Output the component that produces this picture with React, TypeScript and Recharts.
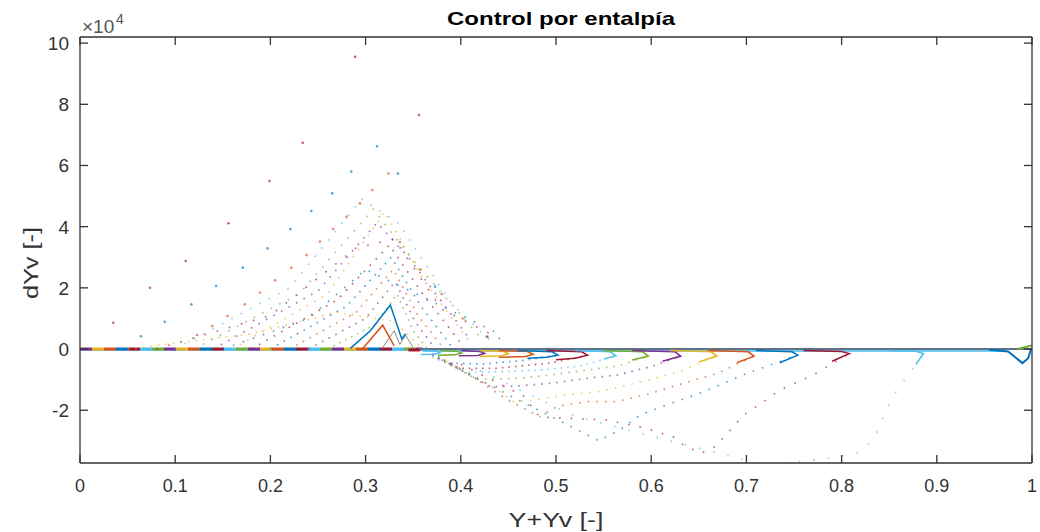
import React from 'react';
import { LineChart, Line, XAxis, YAxis } from 'recharts';

type Pt = [number, number];

// axes (y values in units of 1e4)
const xTicks = [0, 0.1, 0.2, 0.3, 0.4, 0.5, 0.6, 0.7, 0.8, 0.9, 1];
const yTicks = [-2, 0, 2, 4, 6, 8, 10];
const xDomain: [number, number] = [0, 1];
const yDomain: [number, number] = [-3.725, 10.2];

const BLUE = '#0072BD';
const ORANGE = '#D95319';
const YELLOW = '#EDB120';
const PURPLE = '#7E2F8E';
const GREEN = '#77AC30';
const CYAN = '#4DBEEE';
const RED = '#A2142F';
const AXIS = '#333333';
const FONT = '"Liberation Sans", Arial, Helvetica, sans-serif';

// sparse sample points of the outer trajectories (above zero)
const fanRedDots: Pt[] = [[0.035, 0.86], [0.0735, 2.0], [0.111, 2.88], [0.156, 4.11], [0.199, 5.49], [0.234, 6.74], [0.289, 9.55], [0.356, 7.65]];
const fanBlueDots: Pt[] = [[0.064, 0.42], [0.089, 0.89], [0.117, 1.46], [0.143, 2.06], [0.171, 2.66], [0.197, 3.29], [0.221, 3.92], [0.243, 4.51], [0.265, 5.09], [0.285, 5.8], [0.312, 6.63], [0.334, 5.74], [0.373, 2.04], [0.428, 0.4]];
const fanOrangeDots: Pt[] = [[0.123, 0.46], [0.139, 0.75], [0.155, 1.08], [0.173, 1.46], [0.189, 1.84], [0.205, 2.25], [0.222, 2.66], [0.238, 3.07], [0.252, 3.51], [0.266, 3.92], [0.28, 4.32], [0.294, 4.76], [0.307, 5.2], [0.324, 5.74], [0.336, 3.5], [0.357, 2.6], [0.38, 1.8], [0.402, 1.0], [0.427, 0.4]];

// denser trajectories inside the fan
const inner1: Pt[] = [[0.14, 0], [0.25, 1.9], [0.312, 4.13], [0.345, 3.0], [0.41, 0.3]];
const inner2: Pt[] = [[0.10, 0], [0.22, 2.0], [0.296, 4.9], [0.335, 4.1], [0.39, 1.5], [0.43, 0.3]];
const inner3: Pt[] = [[0.12, 0], [0.23, 1.8], [0.308, 4.57], [0.35, 2.9], [0.42, 0.4]];
const inner4: Pt[] = [[0.16, 0], [0.26, 1.8], [0.32, 4.49], [0.36, 2.3], [0.41, 0.2]];
const inner5: Pt[] = [[0.18, 0], [0.27, 1.6], [0.325, 3.4], [0.36, 1.8], [0.40, 0.2]];
const inner6: Pt[] = [[0.20, 0], [0.28, 1.4], [0.327, 3.0], [0.358, 1.4], [0.39, 0.1]];
const inner7: Pt[] = [[0.22, 0], [0.29, 1.2], [0.329, 2.6], [0.355, 1.1], [0.38, 0.1]];
const inner8: Pt[] = [[0.24, 0], [0.30, 1.0], [0.331, 2.2], [0.352, 0.9], [0.372, 0.05]];
const inner9: Pt[] = [[0.26, 0], [0.31, 0.8], [0.333, 1.8], [0.35, 0.6], [0.365, 0]];
const inner10: Pt[] = [[0.05, 0], [0.18, 0.5], [0.27, 1.2], [0.33, 0.9], [0.36, 0]];
const inner11: Pt[] = [[0.15, 0], [0.24, 1.0], [0.30, 2.6], [0.34, 2.0], [0.44, 0.5]];
const inner12: Pt[] = [[0.08, 0], [0.20, 1.1], [0.29, 3.3], [0.33, 3.6], [0.38, 1.3], [0.45, 0.2]];

// solid bumps near x=0.33
const upBlue: Pt[] = [[0.284, 0.02], [0.305, 0.6], [0.326, 1.44], [0.338, 0.33], [0.342, 0.5]];
const upOrange: Pt[] = [[0.297, 0.02], [0.318, 0.78], [0.33, 0.1]];
const upGray: Pt[] = [[0.318, 0.05], [0.33, 0.6], [0.336, 0.15], [0.342, 0.45], [0.35, 0.05]];

// zero line
const zeroLeft: Pt[] = [[0, 0], [0.36, 0]];
const zeroLeftBase: Pt[] = [[0, -0.03], [0.36, -0.03]];
const zeroRight: Pt[] = [[0.355, 0], [1, 0]];
const zeroRightLow: Pt[] = [[0.36, -0.06], [0.97, -0.06]];
const endDip: Pt[] = [[0.955, -0.02], [0.975, -0.08], [0.99, -0.46], [0.996, -0.3], [0.999, 0]];
const endGreen: Pt[] = [[0.985, 0], [1, 0.12]];

// hooks (solid) at the tip of each negative loop
const hookRed1: Pt[] = [[0.345, -0.03], [0.357, -0.03]];
const hookCyan1: Pt[] = [[0.36, -0.04], [0.374, -0.06], [0.378, -0.12], [0.372, -0.17], [0.358, -0.18]];
const hookGreen1: Pt[] = [[0.378, -0.05], [0.396, -0.07], [0.401, -0.13], [0.394, -0.19], [0.376, -0.2]];
const hookPurple1: Pt[] = [[0.40, -0.05], [0.42, -0.08], [0.425, -0.14], [0.418, -0.21], [0.398, -0.22]];
const hookYellow1: Pt[] = [[0.42, -0.05], [0.445, -0.08], [0.45, -0.15], [0.443, -0.22], [0.42, -0.24]];
const hookOrange1: Pt[] = [[0.44, -0.05], [0.47, -0.08], [0.476, -0.17], [0.468, -0.24], [0.44, -0.27]];
const hookBlue1: Pt[] = [[0.46, -0.05], [0.496, -0.09], [0.502, -0.2], [0.49, -0.27], [0.47, -0.3]];
const hookRed2: Pt[] = [[0.49, -0.05], [0.527, -0.09], [0.533, -0.2], [0.52, -0.3], [0.50, -0.35]];
const hookCyan2: Pt[] = [[0.52, -0.05], [0.557, -0.09], [0.563, -0.22], [0.55, -0.33]];
const hookGreen2: Pt[] = [[0.55, -0.05], [0.591, -0.09], [0.597, -0.23], [0.58, -0.36]];
const hookPurple2: Pt[] = [[0.58, -0.05], [0.625, -0.09], [0.631, -0.23], [0.612, -0.4]];
const hookYellow2: Pt[] = [[0.62, -0.05], [0.663, -0.09], [0.669, -0.23], [0.65, -0.42]];
const hookOrange2: Pt[] = [[0.66, -0.05], [0.702, -0.09], [0.708, -0.23], [0.69, -0.45]];
const hookBlue2: Pt[] = [[0.71, -0.05], [0.748, -0.09], [0.754, -0.2], [0.735, -0.45]];
const hookRed3: Pt[] = [[0.76, -0.05], [0.80, -0.08], [0.808, -0.15], [0.79, -0.4]];
const hookCyan3: Pt[] = [[0.85, -0.05], [0.878, -0.07], [0.886, -0.15], [0.878, -0.5]];

// dotted dips below zero
const dipBlue1: Pt[] = [[0.37, -0.15], [0.389, -0.46], [0.423, -0.49], [0.469, -0.36], [0.502, -0.2]];
const dipRed2: Pt[] = [[0.37, -0.2], [0.399, -0.63], [0.437, -0.63], [0.494, -0.46], [0.533, -0.2]];
const dipCyan2: Pt[] = [[0.37, -0.25], [0.406, -0.77], [0.441, -0.74], [0.483, -0.69], [0.525, -0.56], [0.563, -0.22]];
const dipGreen2: Pt[] = [[0.375, -0.3], [0.417, -0.99], [0.459, -0.96], [0.494, -0.85], [0.532, -0.69], [0.564, -0.56], [0.597, -0.23]];
const dipPurple2: Pt[] = [[0.38, -0.35], [0.431, -1.23], [0.459, -1.21], [0.494, -1.12], [0.532, -0.96], [0.564, -0.85], [0.599, -0.58], [0.631, -0.23]];
const dipYellow2: Pt[] = [[0.385, -0.4], [0.441, -1.39], [0.455, -1.72], [0.476, -1.67], [0.511, -1.5], [0.546, -1.39], [0.599, -1.0], [0.634, -0.69], [0.669, -0.23]];
const dipOrange2: Pt[] = [[0.39, -0.45], [0.448, -1.64], [0.483, -2.21], [0.501, -1.88], [0.532, -1.72], [0.564, -1.72], [0.599, -1.45], [0.634, -1.12], [0.669, -0.8], [0.708, -0.23]];
const dipBlue2: Pt[] = [[0.39, -0.5], [0.45, -1.5], [0.52, -2.6], [0.545, -3.0], [0.567, -2.65], [0.588, -2.16], [0.616, -1.83], [0.651, -1.45], [0.70, -0.8], [0.754, -0.2]];
const dipRed3: Pt[] = [[0.40, -0.5], [0.466, -1.54], [0.483, -2.22], [0.553, -2.32], [0.593, -2.58], [0.623, -2.87], [0.636, -3.19], [0.653, -3.4], [0.667, -3.19], [0.683, -2.65], [0.697, -2.16], [0.718, -1.72], [0.735, -1.34], [0.77, -0.85], [0.808, -0.15]];
const dipCyan3: Pt[] = [[0.42, -0.7], [0.52, -2.2], [0.62, -3.0], [0.72, -3.8], [0.779, -3.6], [0.814, -3.43], [0.826, -3.19], [0.837, -2.73], [0.844, -2.2], [0.856, -1.45], [0.886, -0.15]];

type Kind = 'dots' | 'dotted' | 'solid';
interface S { pts: Pt[]; color: string; kind: Kind; gap?: number; width?: number; dash?: string; offset?: number; opacity?: number }

const zeroColors = [PURPLE, YELLOW, ORANGE, BLUE, RED, CYAN, GREEN];

const series: S[] = [
  { pts: zeroLeftBase, color: CYAN, kind: 'solid', width: 2, opacity: 0.8 },
  ...zeroColors.map((c, i) => ({ pts: zeroLeft, color: c, kind: 'solid' as Kind, width: 3, dash: '12 72', offset: -12 * i })),
  { pts: zeroRightLow, color: CYAN, kind: 'solid', width: 2, opacity: 0.8 },
  { pts: zeroRight, color: '#5f7388', kind: 'solid', width: 2 },

  { pts: inner10, color: YELLOW, kind: 'dotted', gap: 6 },
  { pts: inner12, color: RED, kind: 'dotted', gap: 11 },
  { pts: inner11, color: BLUE, kind: 'dotted', gap: 9 },
  { pts: inner1, color: PURPLE, kind: 'dotted', gap: 7 },
  { pts: inner2, color: CYAN, kind: 'dotted', gap: 9 },
  { pts: inner3, color: GREEN, kind: 'dotted', gap: 8 },
  { pts: inner4, color: YELLOW, kind: 'dotted', gap: 7 },
  { pts: inner5, color: RED, kind: 'dotted', gap: 7 },
  { pts: inner6, color: BLUE, kind: 'dotted', gap: 6 },
  { pts: inner7, color: ORANGE, kind: 'dotted', gap: 6 },
  { pts: inner8, color: PURPLE, kind: 'dotted', gap: 6 },
  { pts: inner9, color: GREEN, kind: 'dotted', gap: 5 },
  { pts: fanRedDots, color: RED, kind: 'dots' },
  { pts: fanBlueDots, color: BLUE, kind: 'dots' },
  { pts: fanOrangeDots, color: ORANGE, kind: 'dots' },
  { pts: upGray, color: '#8a8a8a', kind: 'solid', width: 1 },
  { pts: upOrange, color: ORANGE, kind: 'solid', width: 1.5 },
  { pts: upBlue, color: BLUE, kind: 'solid', width: 1.5 },

  { pts: dipBlue1, color: BLUE, kind: 'dotted', gap: 5 },
  { pts: dipRed2, color: RED, kind: 'dotted', gap: 5 },
  { pts: dipCyan2, color: CYAN, kind: 'dotted', gap: 5 },
  { pts: dipGreen2, color: GREEN, kind: 'dotted', gap: 6 },
  { pts: dipPurple2, color: PURPLE, kind: 'dotted', gap: 6 },
  { pts: dipYellow2, color: YELLOW, kind: 'dotted', gap: 7 },
  { pts: dipOrange2, color: ORANGE, kind: 'dotted', gap: 7 },
  { pts: dipBlue2, color: BLUE, kind: 'dotted', gap: 8 },
  { pts: dipRed3, color: RED, kind: 'dotted', gap: 10 },
  { pts: dipCyan3, color: CYAN, kind: 'dotted', gap: 13 },

  { pts: hookRed1, color: RED, kind: 'solid', width: 3 },
  { pts: hookCyan1, color: CYAN, kind: 'solid' },
  { pts: hookGreen1, color: GREEN, kind: 'solid' },
  { pts: hookPurple1, color: PURPLE, kind: 'solid' },
  { pts: hookYellow1, color: YELLOW, kind: 'solid' },
  { pts: hookOrange1, color: ORANGE, kind: 'solid' },
  { pts: hookBlue1, color: BLUE, kind: 'solid' },
  { pts: hookRed2, color: RED, kind: 'solid' },
  { pts: hookCyan2, color: CYAN, kind: 'solid' },
  { pts: hookGreen2, color: GREEN, kind: 'solid' },
  { pts: hookPurple2, color: PURPLE, kind: 'solid' },
  { pts: hookYellow2, color: YELLOW, kind: 'solid' },
  { pts: hookOrange2, color: ORANGE, kind: 'solid' },
  { pts: hookBlue2, color: BLUE, kind: 'solid' },
  { pts: hookRed3, color: RED, kind: 'solid' },
  { pts: hookCyan3, color: CYAN, kind: 'solid' },
  { pts: endDip, color: BLUE, kind: 'solid', width: 2 },
  { pts: endGreen, color: GREEN, kind: 'solid', width: 2 },
];

const BottomTick = (p: any) => (
  <g>
    <line x1={p.x} y1={p.y} x2={p.x} y2={p.y - 8} stroke={AXIS} strokeWidth={1.3} />
    <text x={p.x} y={p.y + 29} textAnchor="middle" fontSize={18} fill={AXIS} fontFamily={FONT}>{String(p.payload.value)}</text>
  </g>
);
const TopTick = (p: any) => <line x1={p.x} y1={p.y} x2={p.x} y2={p.y + 8} stroke={AXIS} strokeWidth={1.3} />;
const LeftTick = (p: any) => (
  <g>
    <line x1={p.x} y1={p.y} x2={p.x + 8} y2={p.y} stroke={AXIS} strokeWidth={1.3} />
    <text x={p.x - 11} y={p.y + 7} textAnchor="end" fontSize={19} fill={AXIS} fontFamily={FONT}>{String(p.payload.value)}</text>
  </g>
);
const RightTick = (p: any) => <line x1={p.x} y1={p.y} x2={p.x - 8} y2={p.y} stroke={AXIS} strokeWidth={1.3} />;

export default function App() {
  return (
    <div style={{ position: 'absolute', left: 0, top: 0, width: 1040, height: 532, background: '#fff' }}>
      <LineChart width={1040} height={532} margin={{ top: 36, right: 7, bottom: 0, left: 0 }}>
        <XAxis xAxisId={0} type="number" dataKey="x" domain={xDomain} ticks={xTicks} allowDataOverflow
          height={69} tickSize={0} tickMargin={0} tickLine={false} tick={BottomTick}
          axisLine={{ stroke: AXIS, strokeWidth: 1.3 }} interval={0} />
        <XAxis xAxisId="top" orientation="top" type="number" dataKey="x" domain={xDomain} ticks={xTicks} allowDataOverflow
          height={1} tickSize={0} tickMargin={0} tickLine={false} tick={TopTick}
          axisLine={{ stroke: AXIS, strokeWidth: 1.3 }} interval={0} />
        <YAxis yAxisId={0} type="number" dataKey="y" domain={yDomain} ticks={yTicks} allowDataOverflow
          width={80} tickSize={0} tickMargin={0} tickLine={false} tick={LeftTick}
          axisLine={{ stroke: AXIS, strokeWidth: 1.3 }} interval={0} />
        <YAxis yAxisId="right" orientation="right" type="number" dataKey="y" domain={yDomain} ticks={yTicks} allowDataOverflow
          width={1} tickSize={0} tickMargin={0} tickLine={false} tick={RightTick}
          axisLine={{ stroke: AXIS, strokeWidth: 1.3 }} interval={0} />
        {/* invisible series so the mirrored top/right axes get drawn */}
        <Line xAxisId="top" yAxisId="right" data={zeroRight.map(([x, y]) => ({ x, y }))} dataKey="y" stroke="none"
          dot={false} activeDot={false} isAnimationActive={false} legendType="none" />
        {series.map((s, i) => {
          const data = s.pts.map(([x, y]) => ({ x, y }));
          if (s.kind === 'dots') {
            return (
              <Line key={i} data={data} dataKey="y" type="linear" stroke="none" isAnimationActive={false}
                dot={{ r: 1.3, fill: s.color, fillOpacity: 0.65, stroke: 'none' }} activeDot={false} legendType="none" />
            );
          }
          if (s.kind === 'dotted') {
            return (
              <Line key={i} data={data} dataKey="y" type="linear" stroke={s.color} strokeWidth={1.7} strokeOpacity={0.65}
                strokeDasharray={`1.6 ${s.gap}`} dot={false} activeDot={false} isAnimationActive={false} legendType="none" />
            );
          }
          return (
            <Line key={i} data={data} dataKey="y" type="linear" stroke={s.color} strokeWidth={s.width ?? 1.5}
              strokeOpacity={s.opacity ?? 1} strokeDasharray={s.dash} strokeDashoffset={s.offset}
              dot={false} activeDot={false} isAnimationActive={false} legendType="none" />
          );
        })}
      </LineChart>
      <svg width={1040} height={532} style={{ position: 'absolute', left: 0, top: 0, pointerEvents: 'none' }} fontFamily={FONT}>
        <text x={561} y={25} textAnchor="middle" fontSize={19} fontWeight="bold" fill="#000" textLength={228} lengthAdjust="spacingAndGlyphs">Control por entalpía</text>
        <text x={82} y={33} fontSize={19} fill="#555">×10</text>
        <text x={116} y={24} fontSize={14} fill="#555">4</text>
        <text x={556} y={527} textAnchor="middle" fontSize={20} fill={AXIS} textLength={95} lengthAdjust="spacingAndGlyphs">Y+Yv [-]</text>
        <text x={0} y={0} transform="translate(38 263) rotate(-90)" textAnchor="middle" fontSize={20} fill={AXIS} textLength={72} lengthAdjust="spacingAndGlyphs">dYv [-]</text>
      </svg>
    </div>
  );
}
